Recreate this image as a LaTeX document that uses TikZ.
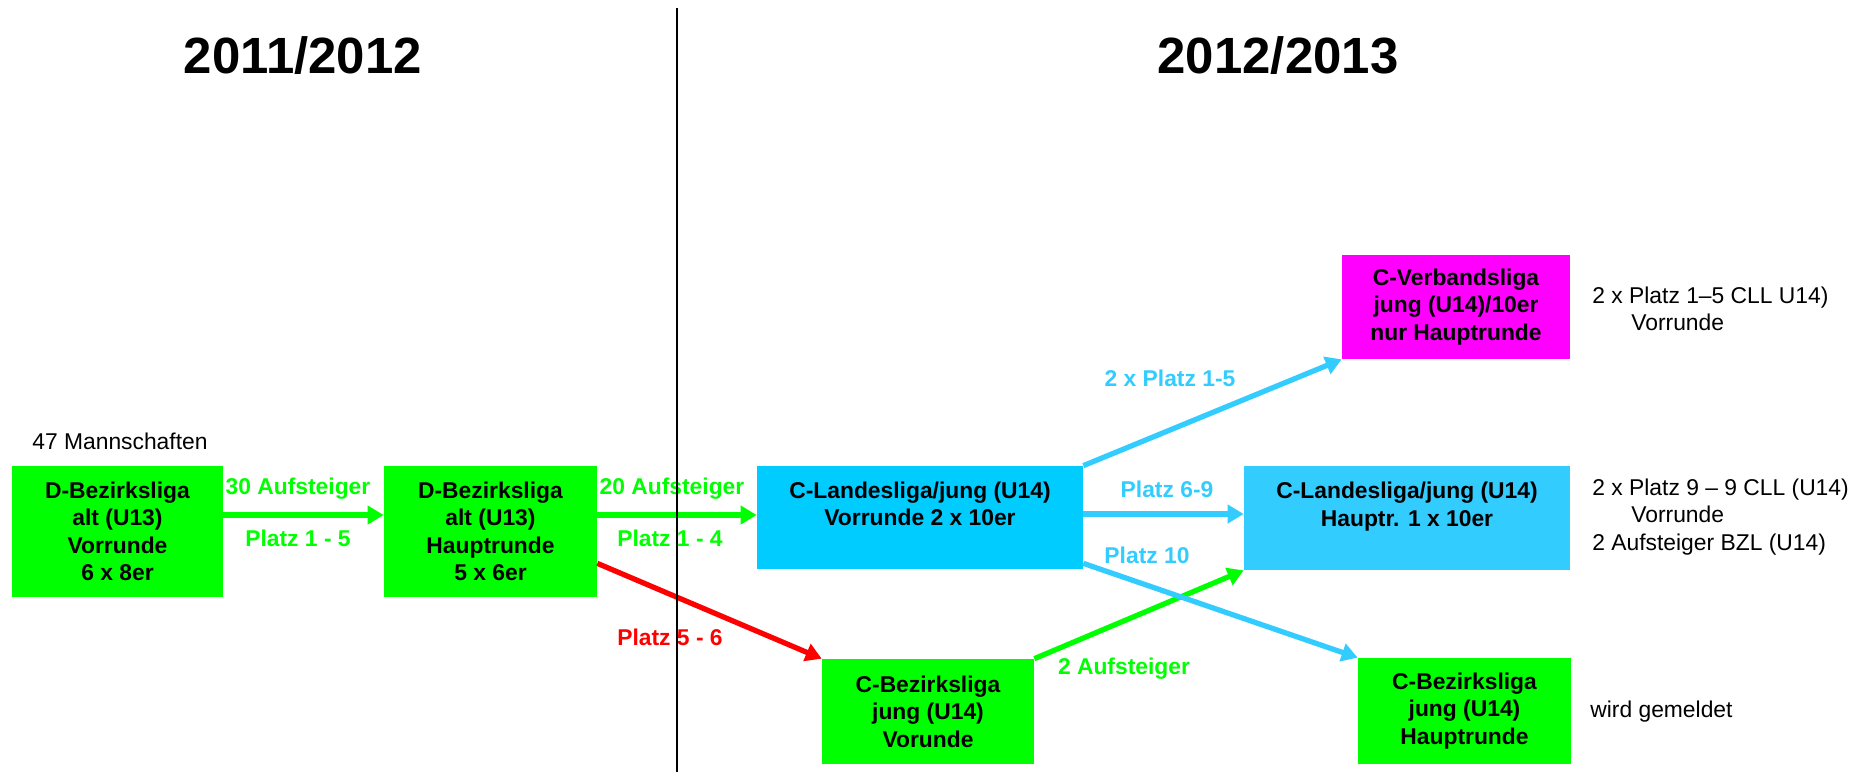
\documentclass[tikz,border=0pt]{standalone}
\usepackage{fontspec}
\setmainfont{Liberation Sans}
\usetikzlibrary{calc,positioning,arrows.meta}

\definecolor{lime}{HTML}{00FF00}
\definecolor{cyanbox}{HTML}{00CCFF}
\definecolor{skyblue}{HTML}{33CCFF}
\definecolor{ligapink}{HTML}{FF00FF}
\definecolor{ligared}{HTML}{FF0000}

\newcommand{\ligafont}{\fontsize{13}{15.6}\selectfont\bfseries}
\newcommand{\notefont}{\fontsize{13}{15.6}\selectfont}
\newcommand{\seasonfont}{\fontsize{29}{35}\selectfont\bfseries}

\begin{document}
\begin{tikzpicture}[x=0.02cm,y=-0.02cm,
    liga/.style={rectangle,fill=#1,align=center,font=\ligafont,inner sep=0pt},
    flow/.style={draw=#1,line width=3pt,-{Triangle[length=0.32cm,width=0.36cm]}},
    note/.style={anchor=west,align=left,font=\notefont,inner sep=0pt}]

  \useasboundingbox (0,0) rectangle (1866,772);

  \node [font=\seasonfont] at(303,56) (season_old) {2011/2012};
  \node [font=\seasonfont] at(1278,56) (season_new) {2012/2013};

  \node [note] at(32,441) (teams) {47 Mannschaften};

  % 2011/2012
  \node [liga=lime,minimum width=4.22cm,minimum height=2.62cm] at(117.5,531.5) (d_vor) {D-Bezirksliga\\alt (U13)\\Vorrunde\\6 x 8er};
  \node [liga=lime,minimum width=4.26cm,minimum height=2.62cm] at(490.5,531.5) (d_haupt) {D-Bezirksliga\\alt (U13)\\Hauptrunde\\5 x 6er};

  % 2012/2013
  \node [liga=cyanbox,minimum width=6.52cm,minimum height=2.06cm] at(920,517.5) (cl_vor) {C-Landesliga/jung (U14)\\Vorrunde 2 x 10er\\\mbox{}};
  \node [liga=lime,minimum width=4.24cm,minimum height=2.1cm] at(928,711.5) (cb_vor) {C-Bezirksliga\\jung (U14)\\Vorunde};
  \node [liga=skyblue,minimum width=6.52cm,minimum height=2.08cm] at(1407,518) (cl_haupt) {C-Landesliga/jung (U14)\\Hauptr. 1 x 10er\\\mbox{}};
  \node [liga=ligapink,minimum width=4.56cm,minimum height=2.08cm] at(1456,307) (cv) {C-Verbandsliga\\jung (U14)/10er\\nur Hauptrunde};
  \node [liga=lime,minimum width=4.26cm,minimum height=2.12cm] at(1464.5,711) (cb_haupt) {C-Bezirksliga\\jung (U14)\\Hauptrunde};

  \node [note] at(1592,309) (note_cv) {2 x Platz 1–5 CLL U14)\\\hspace*{0.78cm}Vorrunde};
  \node [note] at(1592,517) (note_cl) {2 x Platz 9 – 9 CLL (U14)\\\hspace*{0.78cm}Vorrunde\\2 Aufsteiger BZL (U14)};
  \node [note] at(1590,712) (note_cb) {wird gemeldet};

  \foreach \n/\x/\y/\c/\txt in {a30/298/489/lime/30 Aufsteiger, p15/298/538/lime/Platz 1 - 5,
      a20/672/489/lime/20 Aufsteiger, p14/670/538/lime/Platz 1 - 4,
      p56/670/637/ligared/Platz 5 - 6, a2/1124/669/lime/2 Aufsteiger,
      x15/1170/378/skyblue/2 x Platz 1-5, p69/1167/489/skyblue/Platz 6-9,
      p10/1147/555/skyblue/Platz 10}{
    \node [text=\c,font=\ligafont] at(\x,\y) (label_\n) {\txt};
  }

  \coordinate (d_vor_out) at ([yshift=0.33cm]d_vor.east);
  \coordinate (d_haupt_out) at ([yshift=0.33cm]d_haupt.east);
  \coordinate (cl_vor_out) at ([yshift=0.07cm]cl_vor.east);

  \draw [flow=lime] (d_vor_out) -- (d_vor_out -| d_haupt.west);
  \draw [flow=lime] (d_haupt_out) -- (d_haupt_out -| cl_vor.west);
  \draw [flow=ligared] ([yshift=0.68cm]d_haupt.south east) -- (cb_vor.north west);
  \draw [flow=lime] (cb_vor.north east) -- (cl_haupt.south west);
  \draw [flow=skyblue] (cl_vor.north east) -- (cv.south west);
  \draw [flow=skyblue] (cl_vor_out) -- (cl_vor_out -| cl_haupt.west);
  \draw [flow=skyblue] ([yshift=0.12cm]cl_vor.south east) -- (cb_haupt.north west);

  % season border
  \coordinate (border_top) at (677,8);
  \coordinate (border_bottom) at (677,772);
  \draw [line width=0.6pt] (border_top) -- (border_bottom);
\end{tikzpicture}
\end{document}
